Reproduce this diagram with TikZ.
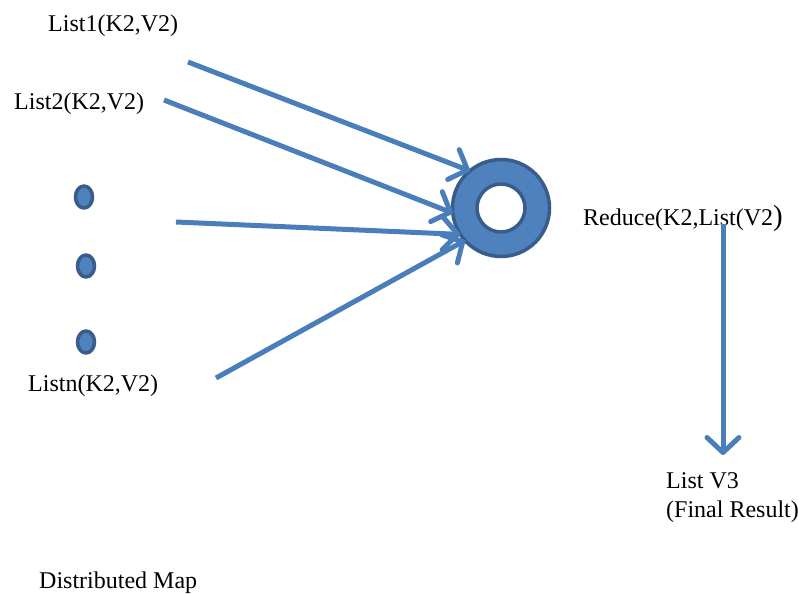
\documentclass[tikz,border=0pt]{standalone}
\usepackage{fontspec}
\setmainfont{Liberation Serif}
\usetikzlibrary{arrows.meta,shapes.geometric}
\definecolor{arrowblue}{HTML}{4A7EBB}
\definecolor{fillblue}{HTML}{4F81BD}
\definecolor{borderblue}{HTML}{385D8A}
\tikzset{
  lbl/.style={anchor=base west, inner sep=0pt, font=\fontsize{24}{28}\selectfont},
  flow/.style={draw=arrowblue, line width=5pt, -{Straight Barb[length=15pt, width=32pt, line width=5pt, round]}},
  dotnode/.style={ellipse, draw=borderblue, fill=fillblue, line width=3.5pt, minimum width=17pt, minimum height=22pt, inner sep=0pt}
}
\begin{document}
\begin{tikzpicture}[x=1pt, y=-1pt]
\useasboundingbox (0,0) rectangle (798,594);
% labels
\node[lbl] (l1) at (48,32) {List1(K2,V2)};
\node[lbl] (l2) at (14,110) {List2(K2,V2)};
\node[lbl] (ln) at (28,391) {Listn(K2,V2)};
\node[lbl] (dm) at (39,588) {Distributed Map};
\node[lbl] (red) at (583,225) {Reduce(K2,List(V2{\fontsize{29}{32}\selectfont )}};
\node[lbl] (lv3) at (666,488) {List V3};
\node[lbl] (fr) at (666,517) {(Final Result)};
% dots
\node[dotnode] (d1) at (84,197) {};
\node[dotnode] (d2) at (86,266) {};
\node[dotnode] (d3) at (86,342) {};
% ring
\node[circle, draw=borderblue, fill=fillblue, line width=3.5pt, minimum size=97pt, inner sep=0pt, outer sep=0pt] (ring) at (501,208) {};
\node[circle, draw=borderblue, fill=white, line width=3.5pt, minimum size=48pt, inner sep=0pt] (hole) at (ring.center) {};
% arrow starts
\coordinate (s1) at (188,62);
\coordinate (s2) at (164,100);
\coordinate (s3) at (176,222);
\coordinate (s4) at (216,378);
\coordinate (ds) at (723,224);
\coordinate (de) at (723,455);
\draw[flow] (s1) -- (ring.130);
\draw[flow] (s2) -- (ring.186);
\draw[flow] (s3) -- (ring.213);
\draw[flow] (s4) -- (ring.222);
\draw[flow] (ds) -- (de);
\end{tikzpicture}
\end{document}
